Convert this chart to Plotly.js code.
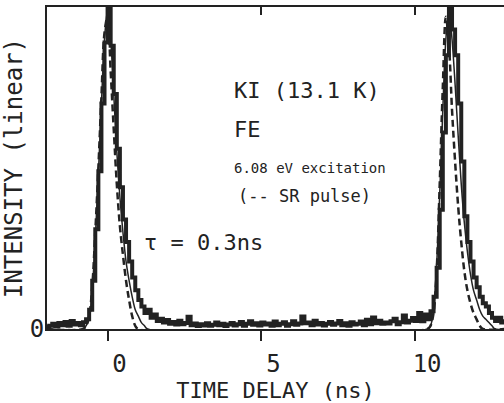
<!DOCTYPE html>
<html><head><meta charset="utf-8">
<script src="https://cdn.plot.ly/plotly-3.0.1.min.js"></script>
<style>html,body{margin:0;padding:0;background:#fff;overflow:hidden}</style>
</head><body><div id="chart" style="width:504px;height:403px"></div>
<script>
// Measured FE decay (time delay in ns, intensity in arbitrary linear units)
const dataTime = [
 -2.0,-1.9,-1.8,-1.7,-1.6,-1.5,-1.4,-1.3,-1.2,-1.1,-1.0,-0.9,-0.8,-0.7,-0.6,-0.5,-0.4,-0.3,-0.2,-0.1,
 0.0,0.1,0.2,0.3,0.4,0.5,0.6,0.7,0.8,0.9,1.0,1.1,1.2,1.3,1.4,1.5,1.6,1.7,1.8,1.9,
 2.0,2.1,2.2,2.3,2.4,2.5,2.6,2.7,2.8,2.9,3.0,3.1,3.2,3.3,3.4,3.5,3.6,3.7,3.8,3.9,
 4.0,4.1,4.2,4.3,4.4,4.5,4.6,4.7,4.8,4.9,5.0,5.1,5.2,5.3,5.4,5.5,5.6,5.7,5.8,5.9,
 6.0,6.1,6.2,6.3,6.4,6.5,6.6,6.7,6.8,6.9,7.0,7.1,7.2,7.3,7.4,7.5,7.6,7.7,7.8,7.9,
 8.0,8.1,8.2,8.3,8.4,8.5,8.6,8.7,8.8,8.9,9.0,9.1,9.2,9.3,9.4,9.5,9.6,9.7,9.8,9.9,
 10.0,10.1,10.2,10.3,10.4,10.5,10.6,10.7,10.8,10.9,11.0,11.1,11.2,11.3,11.4,11.5,11.6,11.7,11.8,11.9,
 12.0,12.1,12.2,12.3,12.4,12.5,12.6,12.7,12.8,12.9
];
const dataIntensity = [
 0.6,1.0,1.6,0.8,1.9,1.2,2.2,1.0,2.5,1.4,1.9,1.2,2.1,3.0,6,15,31,49,70,89,
 101,88,73,56,44,34,27,21,16,12,9,7,5,6,3.5,4.5,2.5,3.2,2.0,2.8,
 1.6,2.2,1.4,2.6,1.5,1.9,3.8,1.2,1.7,0.9,1.5,1.1,1.8,1.0,1.3,2.0,1.2,1.6,0.9,1.4,
 1.9,1.1,1.5,2.2,1.0,1.6,2.4,1.3,1.8,1.1,2.0,1.4,1.7,1.0,2.3,1.2,1.6,2.1,1.0,1.5,
 2.4,1.3,1.7,3.9,1.8,2.0,1.2,2.6,1.4,1.9,1.1,1.6,2.2,1.3,1.7,2.5,1.2,1.8,1.0,2.1,
 1.4,1.6,2.3,1.2,2.9,1.5,3.6,1.8,2.6,1.6,2.0,1.7,2.4,3.2,1.5,2.1,4.2,2.0,2.6,3.4,
 2.5,5.0,2.4,4.5,3.0,5.5,10,19,37,61,85,100,93,85,70,52,35,27,21,16,
 13,10,8,7,5,3.5,2.5,3.5,2.0,3.0
];
// Fitted curve (tau = 0.3 ns)
const fitTime = [-2.0,-0.8,-0.7,-0.6,-0.5,-0.4,-0.3,-0.2,-0.1,0.0,0.1,0.2,0.3,0.4,0.5,0.6,0.7,0.8,0.9,1.0,1.1,1.2,1.3,
 10.4,10.5,10.6,10.7,10.8,10.9,11.0,11.1,11.2,11.3,11.4,11.5,11.6,11.7,11.8,11.9,12.0,12.1,12.2,12.3,12.4,12.5,12.6,12.9];
const fitIntensity = [0,0,1,3,12,28,48,70,90,99,90,73,55,41,30,21,15,10,6,4,2,1,0,
 0,1,6,20,42,68,90,99,90,76,60,45,33,24,17,12,9,6,4,3,2,1,0,0];
// SR excitation pulse (dashed)
const srTime = [-2.0,-0.8,-0.7,-0.6,-0.5,-0.4,-0.3,-0.2,-0.1,0.0,0.1,0.2,0.3,0.4,0.5,0.6,0.7,0.8,0.9,1.0,
 10.4,10.5,10.6,10.7,10.8,10.9,11.0,11.1,11.2,11.3,11.4,11.5,11.6,11.7,11.8,11.9,12.0,12.1,12.2,12.9];
const srIntensity = [0,0,1,4,13,30,50,72,92,97,80,62,45,32,23,15,9,4,1,0,
 0,1,5,18,45,75,97,88,68,52,38,27,18,12,8,5,3,1,0,0];

const xRange = [-1.97, 12.89];
const xTickVals = [0, 5, 10];
const xTickText = ['0', '5', '10'];
const yTickVals = [0];
const yTickText = ['0'];

const MONO = 'DejaVu Sans Mono';
const INK = '#222';

const traces = [
  {x: dataTime, y: dataIntensity, mode: 'lines', name: 'FE',
   line: {color: INK, width: 4, shape: 'hv'}, showlegend: false},
  {x: fitTime, y: fitIntensity, mode: 'lines', name: 'fit',
   line: {color: INK, width: 1.5, shape: 'spline'}, showlegend: false},
  {x: srTime, y: srIntensity, xaxis: 'x2', yaxis: 'y', mode: 'lines', name: 'SR pulse',
   line: {color: INK, width: 2.5, dash: '7px,4px', shape: 'spline'}, showlegend: false}
];

const layout = {
  width: 504, height: 403,
  margin: {l: 47, r: 0, t: 7, b: 74, autoexpand: false},
  paper_bgcolor: '#fff', plot_bgcolor: '#fff',
  showlegend: false,
  xaxis: {
    range: xRange, showgrid: false, zeroline: false, automargin: false,
    showline: true, mirror: true, linecolor: INK, linewidth: 2,
    ticks: 'outside', ticklen: 10, tickwidth: 2, tickcolor: INK,
    tickvals: xTickVals, ticktext: xTickText,
    tickfont: {family: MONO, size: 24, color: INK},
    ticklabelshift: 12, ticklabelstandoff: 2,
    title: {text: 'TIME DELAY (ns)', font: {family: MONO, size: 22, color: INK}, standoff: 4}
  },
  xaxis2: {
    range: xRange, overlaying: 'x', side: 'top', anchor: 'y', showgrid: false, zeroline: false,
    automargin: false, showline: true, linecolor: INK, linewidth: 2,
    ticks: 'inside', ticklen: 8, tickwidth: 2, tickcolor: INK,
    tickvals: xTickVals, showticklabels: false
  },
  yaxis: {
    range: [0, 100], showgrid: false, zeroline: false, automargin: false,
    showline: true, linecolor: INK, linewidth: 2,
    ticks: '', tickvals: yTickVals, ticktext: yTickText,
    tickfont: {family: MONO, size: 24, color: INK}, ticklabelstandoff: -4,
    title: {text: 'INTENSITY (linear)', font: {family: MONO, size: 24, color: INK}, standoff: 0}
  },
  annotations: [
    {xref: 'paper', yref: 'paper', x: 0.405, y: 0.741, xanchor: 'left', yanchor: 'middle', showarrow: false,
     text: 'KI (13.1 K)', font: {family: MONO, size: 22, color: INK}},
    {xref: 'paper', yref: 'paper', x: 0.405, y: 0.620, xanchor: 'left', yanchor: 'middle', showarrow: false,
     text: 'FE', font: {family: MONO, size: 22, color: INK}},
    {xref: 'paper', yref: 'paper', x: 0.405, y: 0.500, xanchor: 'left', yanchor: 'middle', showarrow: false,
     text: '6.08 eV excitation', font: {family: MONO, size: 14, color: INK}},
    {xref: 'paper', yref: 'paper', x: 0.414, y: 0.414, xanchor: 'left', yanchor: 'middle', showarrow: false,
     text: '(-- SR pulse)', font: {family: MONO, size: 17, color: INK}},
    {xref: 'paper', yref: 'paper', x: 0.208, y: 0.269, xanchor: 'left', yanchor: 'middle', showarrow: false,
     text: 'τ = 0.3ns', font: {family: MONO, size: 22, color: INK}}
  ]
};

Plotly.newPlot('chart', traces, layout, {staticPlot: true, displayModeBar: false});
</script></body></html>
